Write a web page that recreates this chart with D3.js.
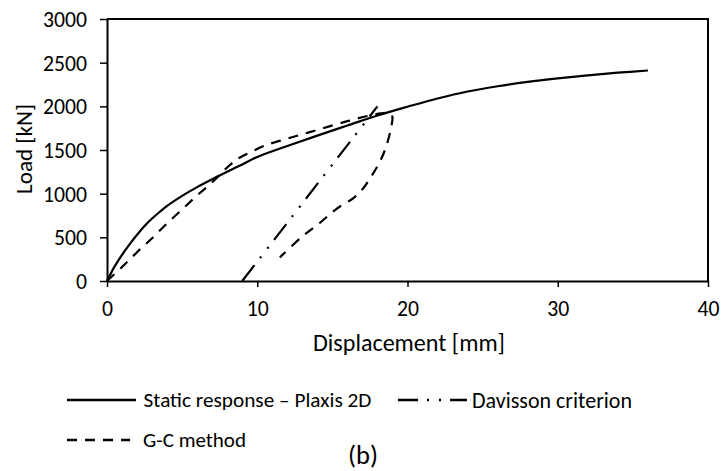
<!DOCTYPE html>
<html><head><meta charset="utf-8">
<script src="https://cdn.jsdelivr.net/npm/d3@7"></script>
<style>body{margin:0;background:#fff;} text{font-family:Carlito,Calibri,Lato,sans-serif;fill:#000;}</style>
</head><body><svg id="c" width="723" height="471"></svg>
<script>
const xTicks = [0, 10, 20, 30, 40];
const yTicks = [0, 500, 1000, 1500, 2000, 2500, 3000];
const staticX = [0,0.5,1,1.5,2,2.5,3,3.5,4,5,6,7,8,9,10,12,14,16,18,20,22,24,26,28,30,32,34,36];
const staticY = [0,165,300,420,530,630,715,790,860,975,1075,1165,1250,1335,1420,1545,1665,1780,1895,1995,2090,2170,2230,2280,2320,2355,2385,2410];
const gcX = [0,1,2,3,4,5,6,7,8,8.7,9.5,10.5,12,14,16,17.5,18.5,18.9,19,18.9,18.6,18.2,17.6,17,16.4,15.3,14.2,13,11.5];
const gcY = [0,160,330,490,660,820,980,1130,1300,1400,1470,1550,1630,1730,1830,1895,1925,1915,1870,1750,1550,1380,1200,1050,950,830,670,510,270];
const davX = [9, 18];
const davY = [0, 2000];

const svg = d3.select("#c");
const L = 107, R = 708, T = 19, B = 281;
const x = d3.scaleLinear().domain([0,40]).range([L,R]);
const y = d3.scaleLinear().domain([0,3000]).range([B,T]);

function fit(sel, target, base){
  sel.style("font-size", base+"px");
  const w = sel.node().getComputedTextLength();
  const s = base*target/w;
  sel.style("font-size", s.toFixed(2)+"px");
  return s;
}

svg.append("path").attr("d",`M${L},${T}H${R}V${B}`).attr("fill","none").attr("stroke","#000").attr("stroke-width",2);

const xa = svg.append("g").attr("transform",`translate(0,${B})`)
  .call(d3.axisBottom(x).tickValues(xTicks).tickFormat(d3.format("d")).tickSize(6).tickSizeOuter(0));
const ya = svg.append("g").attr("transform",`translate(${L},0)`)
  .call(d3.axisLeft(y).tickValues(yTicks).tickFormat(d3.format("d")).tickSize(7).tickSizeOuter(0).tickPadding(13));
[xa,ya].forEach(a=>{
  a.select(".domain").attr("stroke","#000").attr("stroke-width",2);
  a.selectAll(".tick line").attr("stroke","#000").attr("stroke-width",1.5);
  a.selectAll(".tick text").attr("fill","#000");
});
const tickSize = fit(ya.selectAll(".tick text").filter(d=>d===3000), 44, 20);
xa.selectAll(".tick text").style("font-size",tickSize+"px").attr("y",27).attr("dy","0.35em");
ya.selectAll(".tick text").style("font-size",tickSize+"px").attr("dy","0.35em");

const line = d3.line().x(d=>x(d[0])).y(d=>y(d[1]));
const series = [
  {name:"Static response – Plaxis 2D", xs:staticX, ys:staticY, dash:null, curve:d3.curveCatmullRom},
  {name:"Davisson criterion", xs:davX, ys:davY, dash:"20,9,2,10,2,9", curve:d3.curveLinear},
  {name:"G-C method", xs:gcX, ys:gcY, dash:"10,8", curve:d3.curveCatmullRom}
];
series.forEach(s=>{
  const pts = s.xs.map((v,i)=>[v,s.ys[i]]);
  svg.append("path").attr("d", line.curve(s.curve)(pts))
    .attr("fill","none").attr("stroke","#000").attr("stroke-width",2.2)
    .attr("stroke-dasharray", s.dash);
});

const yt = svg.append("text").attr("transform","translate(24,149) rotate(-90)").attr("text-anchor","middle")
  .attr("dy","0.35em").text("Load [kN]");
fit(yt, 90, 20);
const xt = svg.append("text").attr("x",409).attr("y",343).attr("dy","0.35em").attr("text-anchor","middle")
  .text("Displacement [mm]");
fit(xt, 192, 20);

const leg = [
  {s:series[0], x1:67, x2:136, tx:143.5, y:400, w:228},
  {s:series[1], x1:398, x2:467, tx:472, y:400, w:160},
  {s:series[2], x1:67, x2:130, tx:143, y:440, w:103}
];
leg.forEach(l=>{
  svg.append("line").attr("x1",l.x1).attr("x2",l.x2).attr("y1",l.y).attr("y2",l.y)
    .attr("stroke","#000").attr("stroke-width",2.3).attr("stroke-dasharray",l.s.dash);
  const t = svg.append("text").attr("x",l.tx).attr("y",l.y).attr("dy","0.35em").text(l.s.name);
  fit(t, l.w, 18);
});
const bt = svg.append("text").attr("x",363).attr("y",455).attr("dy","0.35em").attr("text-anchor","middle").text("(b)");
fit(bt, 30, 20);
</script></body></html>
